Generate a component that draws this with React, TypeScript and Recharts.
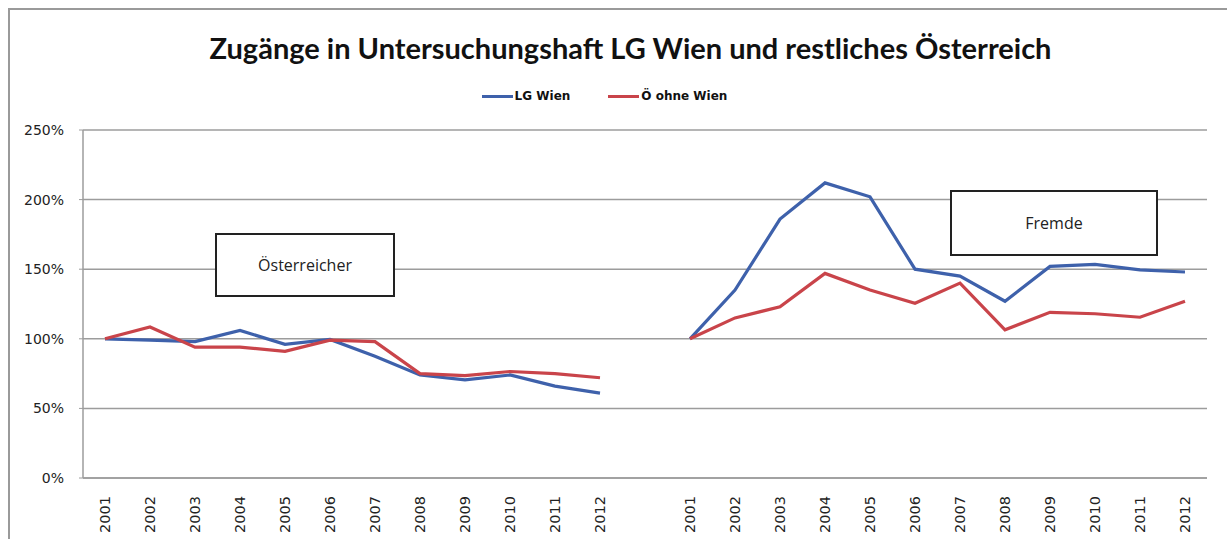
import { CartesianGrid, Line, LineChart, XAxis, YAxis } from "recharts"

// two blocks of years (Österreicher / Fremde) separated by an empty slot
const years = ["2001", "2002", "2003", "2004", "2005", "2006", "2007", "2008", "2009", "2010", "2011", "2012"]
const categories = [...years, "", ...years]

const wienOesterreicher = [100, 99, 98, 106, 96, 99.5, 87.5, 74, 70.5, 74, 66, 61]
const restOesterreicher = [100, 108.5, 94, 94, 91, 99, 98, 75, 73.5, 76.5, 75, 72]
const wienFremde = [100, 135, 186, 212, 202, 150, 145, 127, 152, 153.5, 149.5, 148]
const restFremde = [100, 115, 123, 147, 135, 125.5, 140, 106.5, 119, 118, 115.5, 127]

const yTicks = [0, 50, 100, 150, 200, 250]

const BLUE = "#3e61ab"
const RED = "#c9444a"

const seriesInfo = [
  { key: "wien", name: "LG Wien", color: BLUE },
  { key: "rest", name: "Ö ohne Wien", color: RED },
]

const data = categories.map((cat, i) => {
  if (i < 12) return { cat, wien: wienOesterreicher[i], rest: restOesterreicher[i] }
  if (i === 12) return { cat, wien: null, rest: null }
  return { cat, wien: wienFremde[i - 13], rest: restFremde[i - 13] }
})

const YearTick = (props: any) => {
  const { x, y, payload } = props
  if (!payload.value) return null
  return (
    <text
      x={x}
      y={y + 10}
      transform={`rotate(-90, ${x}, ${y + 10})`}
      textAnchor="end"
      dy="0.36em"
      fontSize={14.5}
      fontFamily="DejaVu Sans"
      fill="#222"
    >
      {payload.value}
    </text>
  )
}

const boxStyle: React.CSSProperties = {
  position: "absolute",
  background: "#fff",
  border: "2px solid #222",
  boxSizing: "border-box",
  display: "flex",
  alignItems: "center",
  justifyContent: "center",
  fontFamily: "Open Sans",
  fontSize: 16,
  color: "#222",
}

export default function App() {
  return (
    <div
      style={{
        position: "absolute",
        left: 0,
        top: 0,
        width: 1227,
        height: 539,
        background: "#fff",
        overflow: "hidden",
      }}
    >
      <div
        style={{
          position: "absolute",
          left: 8,
          top: 8,
          width: 1219,
          height: 531,
          borderTop: "2px solid #9a9a9a",
          borderLeft: "2px solid #9a9a9a",
        }}
      />
      <div
        style={{
          position: "absolute",
          left: 17,
          top: 30,
          width: 1227,
          textAlign: "center",
          fontFamily: "Lato",
          fontWeight: 700,
          fontSize: 29,
          color: "#111",
          lineHeight: "36px",
        }}
      >
        Zugänge in Untersuchungshaft LG Wien und restliches Österreich
      </div>
      <div
        style={{
          position: "absolute",
          left: 0,
          top: 89,
          width: 1227,
          display: "flex",
          justifyContent: "center",
          paddingLeft: 20,
          boxSizing: "border-box",
          fontFamily: "DejaVu Sans",
          fontWeight: 700,
          fontSize: 12,
          color: "#111",
        }}
      >
        {seriesInfo.map((s) => (
          <div key={s.key} style={{ display: "flex", alignItems: "center", marginRight: 38 }}>
            <div style={{ width: 31, height: 3, background: s.color, marginRight: 2 }} />
            <span>{s.name}</span>
          </div>
        ))}
      </div>

      <LineChart width={1227} height={539} data={data} margin={{ top: 130, right: 20, left: 0, bottom: 0 }}>
        <CartesianGrid vertical={false} stroke="#9c9c9c" strokeWidth={1.5} />
        <XAxis
          dataKey="cat"
          interval={0}
          height={61}
          padding={{ left: 22, right: 22 }}
          tick={<YearTick />}
          tickLine={false}
          axisLine={{ stroke: "#9c9c9c", strokeWidth: 1.5 }}
        />
        <YAxis
          width={83}
          domain={[0, 250]}
          ticks={yTicks}
          tickFormatter={(v) => `${v}%`}
          tick={{ fontSize: 14, fontFamily: "DejaVu Sans", fill: "#222" }}
          tickSize={4}
          tickMargin={15}
          tickLine={{ stroke: "#9c9c9c" }}
          axisLine={{ stroke: "#9c9c9c", strokeWidth: 1.5 }}
        />
        {seriesInfo.map((s) => (
          <Line
            key={s.key}
            type="linear"
            dataKey={s.key}
            stroke={s.color}
            strokeWidth={3.2}
            dot={false}
            connectNulls={false}
            isAnimationActive={false}
          />
        ))}
      </LineChart>

      <div style={{ ...boxStyle, left: 215, top: 233, width: 180, height: 64 }}>Österreicher</div>
      <div style={{ ...boxStyle, left: 950, top: 190, width: 208, height: 66 }}>Fremde</div>
    </div>
  )
}
